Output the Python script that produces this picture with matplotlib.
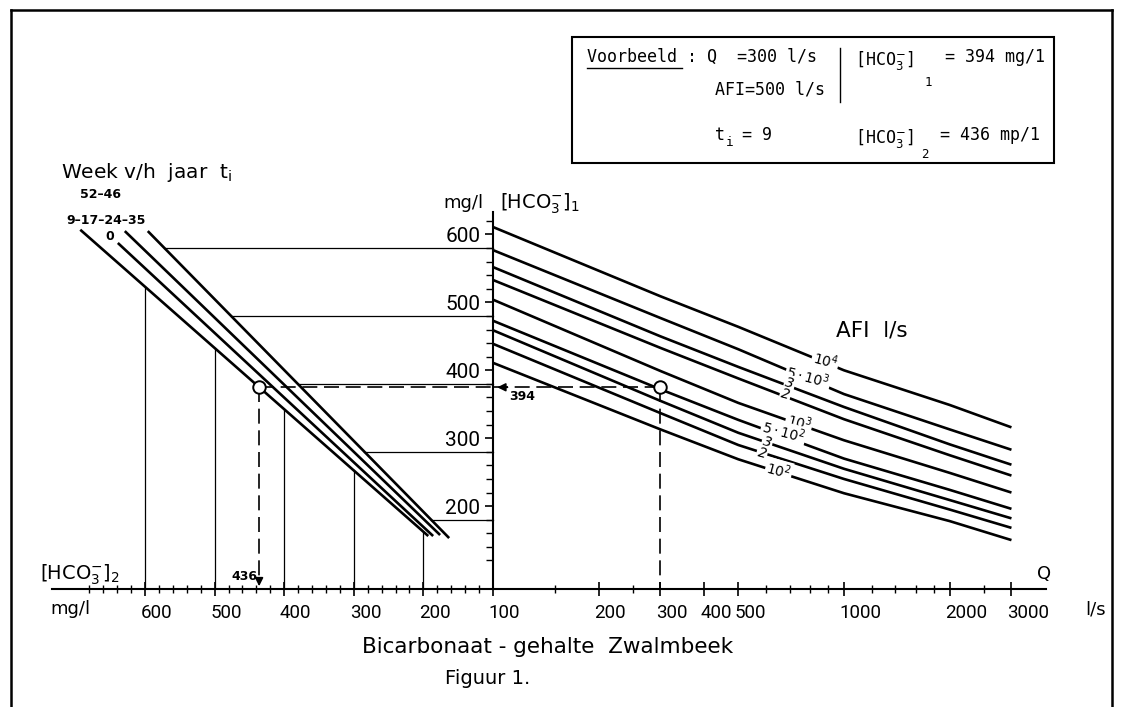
import numpy as np
import matplotlib
matplotlib.use('Agg')
import matplotlib.pyplot as plt
from matplotlib.transforms import ScaledTranslation
from matplotlib.lines import Line2D
from matplotlib.patches import Rectangle
from matplotlib.ticker import NullFormatter

plt.rcParams['font.family'] = ['DejaVu Sans']
plt.rcParams['mathtext.fontset'] = 'dejavusans'

# ---------------- data ----------------
q_values = [100, 300, 500, 1000, 2000, 3000]          # Q  (l/s)
afi_labels = [r'$10^4$', r'$5\cdot10^3$', '3', '2', r'$10^3$',
              r'$5\cdot10^2$', '3', '2', r'$10^2$']
hco3_1_afi_10000 = [611, 509, 464, 400, 349, 316]
hco3_1_afi_5000 = [577, 477, 431, 365, 313, 283]
hco3_1_afi_3000 = [552, 450, 405, 346, 291, 261]
hco3_1_afi_2000 = [533, 433, 388, 328, 275, 245]
hco3_1_afi_1000 = [504, 399, 352, 297, 249, 220]
hco3_1_afi_500 = [473, 372, 327, 270, 224, 196]
hco3_1_afi_300 = [459, 355, 308, 255, 209, 182]
hco3_1_afi_200 = [439, 337, 290, 240, 195, 168]
hco3_1_afi_100 = [411, 313, 269, 219, 178, 150]

# week lines: [HCO3-]1 (vertical scale) vs [HCO3-]2 (horizontal scale)
week9_hco3_1 = [607, 156]
week9_hco3_2 = [693, 193]
week0_hco3_1 = [587.5, 156]
week0_hco3_2 = [639, 186]
week24_hco3_1 = [605, 157.5]
week24_hco3_2 = [629, 176]
week35_hco3_1 = [605, 153]
week35_hco3_2 = [596, 163]

hco3_1_guides = [580, 480, 380, 280, 180]
hco3_2_guides = [600, 500, 400, 300, 200]

y_major = [200, 300, 400, 500, 600]
q_major = [100, 200, 300, 400, 500, 1000, 2000, 3000]
q_minor = [150, 250, 600, 700, 800, 900, 1200, 1400, 1600, 1800, 2500]
c2_major = [600, 500, 400, 300, 200]

example_q = 300
example_hco3_1_plot = 375
example_hco3_1_text = 394
example_hco3_2 = 436

# ---------------- layout ----------------
W, H = 1123, 707
fig = plt.figure(figsize=(W / 100, H / 100), dpi=100)
fig.patch.set_facecolor('white')

def fx(x):
    return x / W

def fy(y):
    return 1 - y / H

tick_font = ['Roboto', 'DejaVu Sans']
y_axis_px, x_axis_px, top_px = 493, 589, 212
ylim = (78.0, 633.1)

ax_r = fig.add_axes([fx(y_axis_px), fy(x_axis_px), (1046 - y_axis_px) / W, (x_axis_px - top_px) / H])
ax_l = fig.add_axes([fx(52), fy(x_axis_px), (y_axis_px - 52) / W, (x_axis_px - top_px) / H])
for ax in (ax_r, ax_l):
    ax.set_facecolor('none')
    ax.set_ylim(*ylim)
    for s in ('top', 'right'):
        ax.spines[s].set_visible(False)
    ax.spines['bottom'].set_linewidth(1.5)

ax_r.set_xscale('log')
ax_r.set_xlim(100, 3763)
ax_l.set_xlim(733.6, 100)
ax_l.spines['left'].set_visible(False)
ax_l.tick_params(axis='y', left=False, labelleft=False)
ax_r.spines['left'].set_linewidth(1.5)

# right-axes ticks
ax_r.set_yticks(y_major)
ax_r.set_yticklabels([str(v) for v in y_major], fontfamily=tick_font)
ax_r.set_yticks([v for v in range(100, 640, 20) if v % 100], minor=True)
ax_r.tick_params(axis='y', which='major', direction='out', length=6, width=1.2, labelsize=15, pad=3)
ax_r.tick_params(axis='y', which='minor', direction='out', length=5, width=1.0)
ax_r.set_xticks(q_major)
ax_r.set_xticklabels([str(v) for v in q_major], fontfamily=tick_font)
ax_r.set_xticks(q_minor, minor=True)
ax_r.xaxis.set_minor_formatter(NullFormatter())
ax_r.tick_params(axis='x', which='major', direction='inout', length=10, width=1.2, labelsize=13.5, pad=6)
ax_r.tick_params(axis='x', which='minor', direction='inout', length=6, width=1.0)

ax_l.set_xticks(c2_major)
ax_l.set_xticklabels([str(v) for v in c2_major], fontfamily=tick_font)
ax_l.set_xticks([v for v in range(120, 700, 20) if v % 100], minor=True)
ax_l.tick_params(axis='x', which='major', direction='inout', length=10, width=1.2, labelsize=13.5, pad=6)
ax_l.tick_params(axis='x', which='minor', direction='inout', length=6, width=1.0)

shift = ScaledTranslation(-3 / 72, 0, fig.dpi_scale_trans)
for ax in (ax_r, ax_l):
    for lab in ax.get_xticklabels():
        lab.set_horizontalalignment('left')
        lab.set_transform(lab.get_transform() + shift)

# ---------------- right panel: AFI curves ----------------
curves = [hco3_1_afi_10000, hco3_1_afi_5000, hco3_1_afi_3000, hco3_1_afi_2000,
          hco3_1_afi_1000, hco3_1_afi_500, hco3_1_afi_300, hco3_1_afi_200,
          hco3_1_afi_100]
for c in curves:
    ax_r.plot(q_values, c, color='black', lw=1.9, solid_capstyle='butt', zorder=2)

label_pos = [(885, 415), (790, 390), (700, 381), (680, 364), (745, 324),
             (672, 309), (604, 294), (584, 278), (652, 253)]
for lab, (q, v) in zip(afi_labels, label_pos):
    ax_r.text(q, v, lab, fontsize=10, style='italic', rotation=-15,
              ha='center', va='center', zorder=4,
              bbox=dict(boxstyle='square,pad=0.08', fc='white', ec='none'))

fig.text(fx(872), fy(330), 'AFI  l/s', fontsize=15.5, ha='center', va='center')

# ---------------- left panel: week lines ----------------
weeks = [(week9_hco3_2, week9_hco3_1), (week0_hco3_2, week0_hco3_1),
         (week24_hco3_2, week24_hco3_1), (week35_hco3_2, week35_hco3_1)]
for xs, ys in weeks:
    ax_l.plot(xs, ys, color='black', lw=1.9, solid_capstyle='butt', zorder=2)

# guide lines: horizontal from the outer week line to the axis
outer_x, outer_y = week35_hco3_2, week35_hco3_1
for v in hco3_1_guides:
    xstart = np.interp(v, outer_y[::-1], outer_x[::-1])
    ax_l.plot([xstart, 100], [v, v], color='black', lw=0.9, zorder=1, clip_on=False)
# vertical from the axis to the inner week line
inner_x, inner_y = week9_hco3_2, week9_hco3_1
for v in hco3_2_guides:
    ytop = np.interp(v, inner_x[::-1], inner_y[::-1])
    ax_l.plot([v, v], [ylim[0], ytop], color='black', lw=0.9, zorder=1)

# ---------------- worked example ----------------
dash = dict(color='black', lw=1.2, dashes=(9, 4), zorder=3)
ax_l.plot([example_hco3_2, 100], [example_hco3_1_plot] * 2, clip_on=False, **dash)
ax_r.plot([100, example_q], [example_hco3_1_plot] * 2, **dash)
ax_l.plot([example_hco3_2] * 2, [example_hco3_1_plot, ylim[0] + 14], **dash)
ax_r.plot([example_q] * 2, [example_hco3_1_plot, ylim[0]], **dash)
ax_l.annotate('', xy=(example_hco3_2, ylim[0]), xytext=(example_hco3_2, ylim[0] + 16),
              arrowprops=dict(arrowstyle='-|>', color='black', lw=1.2, mutation_scale=12))
ax_r.annotate('', xy=(101, example_hco3_1_plot), xytext=(112, example_hco3_1_plot),
              arrowprops=dict(arrowstyle='-|>', color='black', lw=1.2, mutation_scale=12))
ax_l.plot([example_hco3_2], [example_hco3_1_plot], 'o', ms=9, mfc='white', mec='black', mew=1.4, zorder=5)
ax_r.plot([example_q], [example_hco3_1_plot], 'o', ms=9, mfc='white', mec='black', mew=1.4, zorder=5)
fig.text(fx(522), fy(397), str(example_hco3_1_text), fontsize=9, weight='bold', ha='center', va='center')
fig.text(fx(244), fy(576), str(example_hco3_2), fontsize=9, weight='bold', ha='center', va='center')

# ---------------- axis texts ----------------
fig.text(fx(463), fy(203), 'mg/l', fontsize=13, ha='center', va='center')
fig.text(fx(500), fy(204), r'[HCO$_3^{-}$]$_1$', fontsize=14, ha='left', va='center')
fig.text(fx(40), fy(575), r'[HCO$_3^{-}$]$_2$', fontsize=14, ha='left', va='center')
fig.text(fx(70), fy(609), 'mg/l', fontsize=13, ha='center', va='center')
fig.text(fx(1044), fy(574), 'Q', fontsize=13, ha='center', va='center')
fig.text(fx(1096), fy(609), 'l/s', fontsize=13, ha='center', va='center')
fig.text(fx(548), fy(647), 'Bicarbonaat - gehalte  Zwalmbeek', fontsize=15.5, ha='center', va='center')
fig.text(fx(488), fy(679), 'Figuur 1.', fontsize=14, ha='center', va='center')

fig.text(fx(61), fy(173), r'Week v/h  jaar  t$_\mathrm{i}$', fontsize=14.5, ha='left', va='center')
fig.text(fx(80), fy(195), '52–46', fontsize=9, weight='bold', ha='left', va='center')
fig.text(fx(66), fy(220), '9–17–24–35', fontsize=9, weight='bold', ha='left', va='center')
fig.text(fx(110), fy(237), '0', fontsize=9, weight='bold', ha='center', va='center')

# ---------------- example box ----------------
mono = 'DejaVu Sans Mono'
fig.add_artist(Rectangle((fx(572), fy(163)), (1054 - 572) / W, (163 - 37) / H,
                         transform=fig.transFigure, fill=False, lw=1.5, ec='black'))
fig.add_artist(Line2D([fx(840), fx(840)], [fy(48), fy(102)], transform=fig.transFigure, lw=1.0, color='black'))
fig.add_artist(Line2D([fx(587), fx(682)], [fy(68), fy(68)], transform=fig.transFigure, lw=1.0, color='black'))
bt = dict(fontsize=12, family=mono, va='center', ha='left')
fig.text(fx(587), fy(57), 'Voorbeeld : Q  =300 l/s', **bt)
fig.text(fx(715), fy(90), 'AFI=500 l/s', **bt)
fig.text(fx(715), fy(135), 't', **bt)
fig.text(fx(726), fy(143), 'i', fontsize=9, family=mono, va='center', ha='left')
fig.text(fx(742), fy(135), '= 9', **bt)
fig.text(fx(855), fy(60), r'[HCO$_3^{-}$]', **bt)
fig.text(fx(925), fy(83), '1', fontsize=9, family=mono, va='center', ha='left')
fig.text(fx(945), fy(57), '= 394 mg/1', **bt)
fig.text(fx(855), fy(138), r'[HCO$_3^{-}$]', **bt)
fig.text(fx(921), fy(155), '2', fontsize=9, family=mono, va='center', ha='left')
fig.text(fx(940), fy(135), '= 436 mp/1', **bt)

# ---------------- page frame ----------------
for xs, ys in [([11, 11], [10, 707]), ([11, 1112], [10, 10]), ([1112, 1112], [10, 707])]:
    fig.add_artist(Line2D([fx(x) for x in xs], [fy(y) for y in ys], transform=fig.transFigure,
                          lw=1.8, color='black'))

fig.savefig('out.png', dpi=100, facecolor='white')
